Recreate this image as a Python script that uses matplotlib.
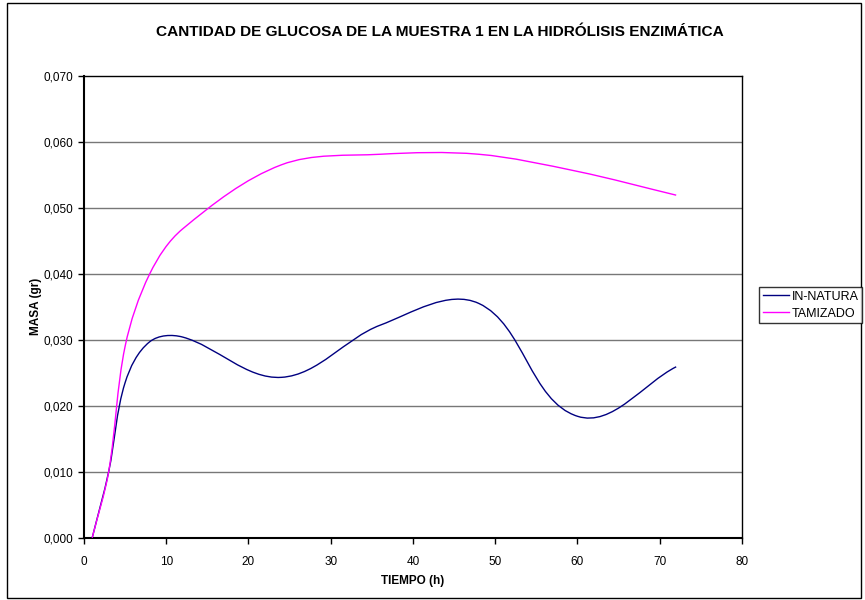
import matplotlib
matplotlib.use("Agg")
import matplotlib.pyplot as plt
from matplotlib.path import Path
from matplotlib.patches import PathPatch, Rectangle
from matplotlib.lines import Line2D
import numpy as np

plt.rcParams['font.family'] = ['Liberation Sans', 'DejaVu Sans']

tiempo = [1, 3, 5, 8, 12, 24, 36, 48, 60, 72]
in_natura = [0.0, 0.0100, 0.0235, 0.0297, 0.0304, 0.0243, 0.0322, 0.0355, 0.0184, 0.0259]
tamizado = [0.0, 0.0100, 0.0290, 0.0400, 0.0468, 0.0565, 0.0581, 0.0581, 0.0555, 0.0519]
series_names = ["IN-NATURA", "TAMIZADO"]
series_colors = ["#000080", "#FF00FF"]
x_ticks = [0, 10, 20, 30, 40, 50, 60, 70, 80]
y_ticks = [0.0, 0.01, 0.02, 0.03, 0.04, 0.05, 0.06, 0.07]

fig = plt.figure(figsize=(8.65, 6.0), dpi=100)
ax = fig.add_axes([0.0971, 0.1038, 0.7607, 0.7700])
ax.set_xlim(0, 80)
ax.set_ylim(0, 0.07)


def smooth_path(xs, ys, ax):
    # smoothed line: cubic Bezier through points, tangent scaled by segment length
    pts = ax.transData.transform(np.column_stack([xs, ys]))
    n = len(pts)
    tans = []
    for i in range(n):
        p0 = pts[i - 1] if i > 0 else pts[i]
        p2 = pts[i + 1] if i + 1 < n else pts[i]
        d = p2 - p0
        tans.append(d / (np.hypot(*d) + 1e-9))
    verts = [pts[0]]
    codes = [Path.MOVETO]
    for i in range(n - 1):
        p1, p2 = pts[i], pts[i + 1]
        L = np.hypot(*(p2 - p1))
        c1 = p1 + tans[i] * L / 3.0
        c2 = p2 - tans[i + 1] * L / 3.0
        verts += [c1, c2, p2]
        codes += [Path.CURVE4] * 3
    return Path(verts, codes)


for ys, col in zip([in_natura, tamizado], series_colors):
    path = smooth_path(tiempo, ys, ax)
    patch = PathPatch(path, facecolor='none', edgecolor=col, lw=1.0,
                      transform=None, clip_on=True, zorder=3)
    patch.set_clip_box(ax.bbox)
    fig.add_artist(patch)

ax.set_xticks(x_ticks)
ax.set_xticklabels([str(v) for v in x_ticks])
ax.set_yticks(y_ticks)
ax.set_yticklabels([f"{v:.3f}".replace('.', ',') for v in y_ticks])
ax.tick_params(direction='out', length=4, width=1, labelsize=8.5, colors='black')
ax.tick_params(axis='x', pad=9)
ax.tick_params(axis='y', pad=4)
for yv in y_ticks[1:-1]:
    ax.axhline(yv, color='#777777', lw=1.0, zorder=1)
for s in ax.spines.values():
    s.set_color('black')
    s.set_linewidth(1.0)
ax.spines['left'].set_linewidth(1.5)
ax.spines['bottom'].set_linewidth(1.5)

ax.set_xlabel("TIEMPO (h)", fontsize=8.5, fontweight='bold', labelpad=5)
ax.set_ylabel("MASA (gr)", fontsize=8.5, fontweight='bold', labelpad=1)
fig.text(440 / 865, 1 - 32 / 600, "CANTIDAD DE GLUCOSA DE LA MUESTRA 1 EN LA HIDRÓLISIS ENZIMÁTICA",
         ha='center', va='center', fontsize=11.1, fontweight='bold')

# legend
handles = [Line2D([], [], color=c, lw=1.0) for c in series_colors]
leg = fig.legend(handles, series_names, loc='upper left', bbox_to_anchor=(759 / 865, 1 - 287 / 600),
                 fontsize=9, frameon=True, fancybox=False, edgecolor='black', handlelength=2.1,
                 handletextpad=0.2, borderpad=0.3, labelspacing=0.4, borderaxespad=0)
leg.get_frame().set_linewidth(1.0)

# outer border
fig.add_artist(Rectangle((7 / 865, 2 / 600), (861 - 7) / 865, (597 - 2) / 600, transform=fig.transFigure,
                         fill=False, edgecolor='black', lw=1.0))

fig.savefig("out.png", dpi=100)
